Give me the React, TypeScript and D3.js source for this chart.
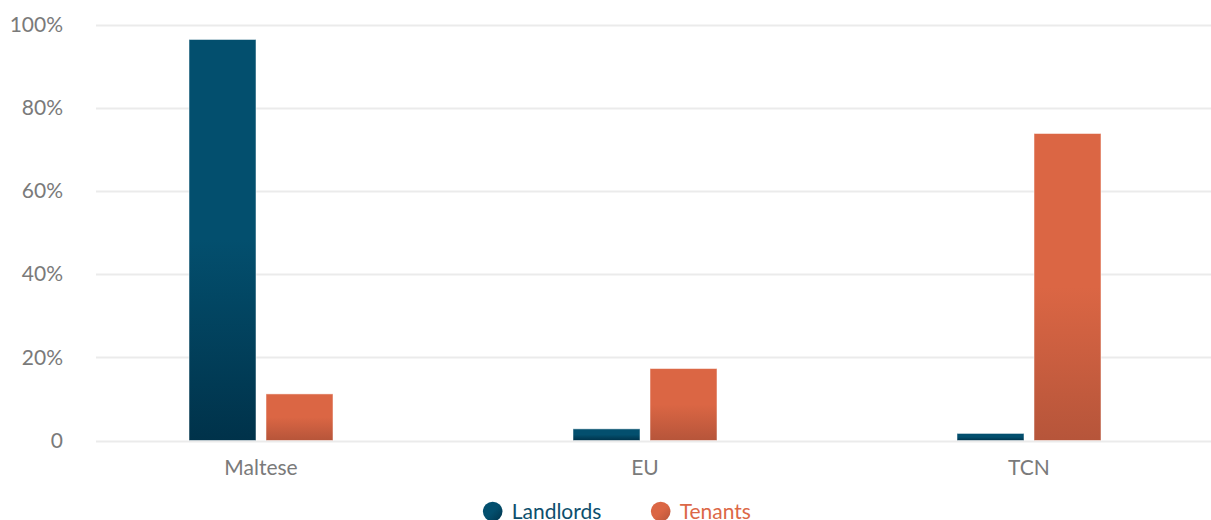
import React from "react";
import * as d3 from "d3";

const categories = ["Maltese", "EU", "TCN"];
const seriesNames = ["Landlords", "Tenants"];
const landlords = [96.4, 2.8, 1.7];
const tenants = [11.2, 17.3, 73.8];
const yTicks = [0, 20, 40, 60, 80, 100];
const yTickLabels = ["0", "20%", "40%", "60%", "80%", "100%"];

const W = 1211;
const H = 520;
const FONT = "Lato, 'Open Sans', sans-serif";

const topColors = ["#034f6e", "#db6644"];
const bottomColors = ["#00324a", "#b6553a"];
const legendText = ["#0d4f6d", "#dc6847"];

export default function App() {
  const x = d3.scaleBand<string>().domain(categories).range([69, 1221]);
  const y = d3.scaleLinear().domain([0, 100]).range([440.5, 24.5]);
  const inner = d3.scaleBand<string>().domain(seriesNames).range([0, 144]).paddingInner(10 / 77);
  const series = [landlords, tenants];

  return (
    <svg width={W} height={H} style={{ position: "absolute", left: 0, top: 0, background: "#fff" }}>
      <defs>
        {seriesNames.map((s, i) => (
          <linearGradient key={s} id={`g${i}`} x1="0" y1="0" x2="0" y2="1">
            <stop offset="0" stopColor={topColors[i]} />
            <stop offset="0.5" stopColor={topColors[i]} />
            <stop offset="1" stopColor={bottomColors[i]} />
          </linearGradient>
        ))}
        {seriesNames.map((s, i) => (
          <linearGradient key={s + "l"} id={`lg${i}`} x1="0" y1="0" x2="1" y2="1">
            <stop offset="0" stopColor={topColors[i]} />
            <stop offset="0.5" stopColor={topColors[i]} />
            <stop offset="1" stopColor={bottomColors[i]} />
          </linearGradient>
        ))}
      </defs>
      {yTicks.map((t, i) => (
        <g key={t}>
          <line x1={96} x2={W} y1={Math.round(y(t)) + 0.5} y2={Math.round(y(t)) + 0.5} stroke="#ebebeb" strokeWidth={2} />
          <text x={63} y={y(t)} dy="0.35em" textAnchor="end" fontFamily={FONT} fontSize={21} fill="#7a7a7a">
            {yTickLabels[i]}
          </text>
        </g>
      ))}
      {categories.map((c, ci) => {
        const cx = (x(c) as number) + x.bandwidth() / 2;
        const gx = cx - 72;
        return (
          <g key={c}>
            {seriesNames.map((s, si) => {
              const v = series[si][ci];
              const bx = gx + (inner(s) as number);
              return (
                <rect
                  key={s}
                  x={bx}
                  y={y(v)}
                  width={inner.bandwidth()}
                  height={y(0) - y(v)}
                  fill={`url(#g${si})`}
                  stroke="#ffffff"
                  strokeOpacity={0.5}
                  strokeWidth={1}
                />
              );
            })}
            <text x={cx} y={475} textAnchor="middle" fontFamily={FONT} fontSize={21} fill="#7a7a7a">
              {c}
            </text>
          </g>
        );
      })}
      {seriesNames.map((s, i) => {
        const lx = [492.7, 660.7][i];
        return (
          <g key={s}>
            <circle cx={lx} cy={511.5} r={9.8} fill={`url(#lg${i})`} />
            <text x={lx + 19} y={519} fontFamily={FONT} fontSize={21} fill={legendText[i]}>
              {s}
            </text>
          </g>
        );
      })}
    </svg>
  );
}
